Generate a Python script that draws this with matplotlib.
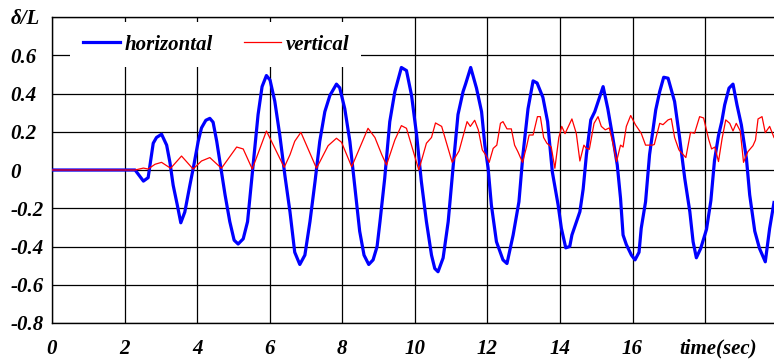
import matplotlib
matplotlib.use("Agg")
import matplotlib.pyplot as plt

# horizontal displacement (blue)
t_horizontal = [0.0, 2.29, 2.52, 2.65, 2.79, 2.88, 3.02, 3.16, 3.25, 3.34, 3.45, 3.55, 3.66, 3.80,
                3.91, 4.03, 4.12, 4.24, 4.35, 4.44, 4.54, 4.63, 4.77, 4.90, 5.02, 5.13, 5.27, 5.39,
                5.48, 5.57, 5.68, 5.79, 5.91, 6.01, 6.14, 6.28, 6.42, 6.56, 6.69, 6.83, 6.97, 7.11,
                7.25, 7.38, 7.52, 7.66, 7.84, 7.93, 8.07, 8.21, 8.35, 8.48, 8.60, 8.73, 8.85, 8.96,
                9.04, 9.17, 9.31, 9.45, 9.63, 9.77, 9.91, 10.05, 10.18, 10.32, 10.46, 10.55, 10.64,
                10.78, 10.92, 11.06, 11.19, 11.33, 11.40, 11.54, 11.70, 11.84, 11.93, 12.02, 12.11,
                12.25, 12.43, 12.54, 12.71, 12.87, 12.98, 13.12, 13.26, 13.37, 13.53, 13.66, 13.79,
                13.95, 14.04, 14.16, 14.27, 14.33, 14.55, 14.64, 14.73, 14.85, 14.96, 15.19, 15.32,
                15.46, 15.58, 15.67, 15.74, 15.83, 15.97, 16.07, 16.18, 16.24, 16.36, 16.47, 16.64,
                16.75, 16.86, 16.98, 17.16, 17.30, 17.44, 17.58, 17.67, 17.76, 17.88, 18.04, 18.16,
                18.26, 18.37, 18.46, 18.54, 18.66, 18.77, 18.88, 19.00, 19.14, 19.23, 19.37, 19.50,
                19.66, 19.78, 19.90]
horizontal = [0.0, 0.0, -0.058, -0.04, 0.14, 0.17, 0.187, 0.13, 0.04, -0.08, -0.18, -0.276, -0.22, -0.08,
              0.026, 0.15, 0.22, 0.26, 0.27, 0.25, 0.15, 0.04, -0.13, -0.27, -0.367, -0.387, -0.36, -0.27,
              -0.096, 0.08, 0.29, 0.436, 0.494, 0.47, 0.36, 0.18, -0.03, -0.22, -0.43, -0.494, -0.445, -0.27,
              -0.06, 0.15, 0.305, 0.39, 0.449, 0.43, 0.32, 0.15, -0.096, -0.32, -0.445, -0.494, -0.47, -0.40,
              -0.27, -0.044, 0.253, 0.41, 0.536, 0.52, 0.39, 0.183, -0.06, -0.27, -0.445, -0.515, -0.532,
              -0.46, -0.27, 0.026, 0.29, 0.41, 0.45, 0.536, 0.428, 0.305, 0.13, 0.01, -0.183,
              -0.375, -0.47, -0.489, -0.34, -0.166, 0.08, 0.32, 0.466, 0.455, 0.38, 0.253, -0.01,
              -0.183, -0.305, -0.407, -0.40, -0.34, -0.218, -0.1, 0.08, 0.262, 0.305, 0.436, 0.32,
              0.166, 0.026, -0.148, -0.34, -0.39, -0.445, -0.47, -0.43, -0.305, -0.166, 0.08, 0.314,
              0.41, 0.485, 0.48, 0.358, 0.166, -0.044, -0.218, -0.375, -0.459, -0.41, -0.31, -0.16,
              0.05, 0.18, 0.253, 0.34, 0.428, 0.449, 0.34, 0.236, 0.06, -0.13, -0.32, -0.41,
              -0.48, -0.305, -0.17]

# vertical displacement (red)
t_vertical = [0.0, 2.29, 2.52, 2.65, 2.84, 3.02, 3.27, 3.57, 3.89, 4.12, 4.35, 4.67, 5.09, 5.27, 5.52,
              5.91, 6.40, 6.56, 6.69, 6.86, 7.29, 7.61, 7.84, 7.98, 8.26, 8.71, 8.90, 9.09, 9.22, 9.45,
              9.63, 9.77, 10.11, 10.32, 10.46, 10.57, 10.74, 11.03, 11.22, 11.44, 11.53, 11.65, 11.75,
              11.86, 11.95, 12.05, 12.16, 12.26, 12.36, 12.43, 12.54, 12.66, 12.75, 12.84, 12.97, 13.08,
              13.15, 13.26, 13.38, 13.46, 13.55, 13.64, 13.76, 13.86, 13.97, 14.05, 14.14, 14.33, 14.45,
              14.55, 14.66, 14.72, 14.81, 14.94, 15.05, 15.14, 15.25, 15.36, 15.46, 15.56, 15.67, 15.74,
              15.83, 15.95, 16.08, 16.24, 16.36, 16.54, 16.60, 16.75, 16.84, 16.98, 17.07, 17.16, 17.28,
              17.47, 17.60, 17.71, 17.85, 17.96, 18.10, 18.18, 18.27, 18.37, 18.47, 18.57, 18.68, 18.77,
              18.86, 18.97, 19.06, 19.18, 19.32, 19.39, 19.46, 19.57, 19.66, 19.78, 19.90]
vertical = [0.0, 0.0, 0.01, 0.005, 0.03, 0.04, 0.009, 0.073, 0.005, 0.047, 0.065, 0.009, 0.12, 0.11, 0.005,
            0.204, 0.014, 0.08, 0.15, 0.197, 0.009, 0.127, 0.166, 0.145, 0.017, 0.218, 0.17, 0.08, 0.026, 0.157,
            0.232, 0.218, 0.0, 0.14, 0.17, 0.246, 0.228, 0.04, 0.1, 0.253, 0.228, 0.26, 0.21,
            0.105, 0.08, 0.04, 0.113, 0.13, 0.244, 0.253, 0.215, 0.215, 0.13, 0.096, 0.04, 0.122,
            0.183, 0.183, 0.279, 0.279, 0.17, 0.14, 0.12, 0.009, 0.17, 0.228, 0.19, 0.267, 0.192,
            0.047, 0.13, 0.115, 0.108, 0.244, 0.279, 0.228, 0.21, 0.22, 0.14, 0.044, 0.13, 0.12,
            0.228, 0.285, 0.237, 0.192, 0.13, 0.13, 0.133, 0.244, 0.237, 0.262, 0.268, 0.17, 0.105,
            0.065, 0.197, 0.192, 0.279, 0.272, 0.16, 0.11, 0.12, 0.044, 0.165, 0.262, 0.244, 0.204,
            0.244, 0.204, 0.04, 0.096, 0.127, 0.157, 0.267, 0.279, 0.195, 0.228, 0.17]

x_ticks = [0, 2, 4, 6, 8, 10, 12, 14, 16, 18]
x_labels = ["0", "2", "4", "6", "8", "10", "12", "14", "16", ""]
y_ticks = [-0.8, -0.6, -0.4, -0.2, 0, 0.2, 0.4, 0.6, 0.8]
y_labels = ["-0.8", "-0.6", "-0.4", "-0.2", "0", "0.2", "0.4", "0.6", "\u03b4/L"]

plt.rcParams["font.family"] = ["Liberation Serif", "DejaVu Serif"]
plt.rcParams["font.style"] = "italic"
plt.rcParams["font.weight"] = "bold"
plt.rcParams["font.size"] = 15

fig = plt.figure(figsize=(7.74, 3.6), dpi=100)
ax = fig.add_axes([52 / 774, 37 / 360, 722 / 774, 306 / 360])

ax.plot(t_horizontal, horizontal, color="#0000ff", lw=2.3, label="horizontal", zorder=3)
ax.plot(t_vertical, vertical, color="#ff0000", lw=0.9, label="vertical", zorder=3)

ax.set_xlim(0, 19.9)
ax.set_ylim(-0.8, 0.8)
ax.set_xticks(x_ticks)
ax.set_xticklabels(x_labels)
ax.set_yticks(y_ticks)
ax.set_yticklabels(y_labels)
ax.grid(True, color="black", lw=0.9)
ax.tick_params(length=0)
ax.tick_params(axis="x", pad=11.5)
ax.tick_params(axis="y", pad=30)
for lab in ax.get_yticklabels():
    lab.set_horizontalalignment("left")

ax.spines["right"].set_visible(False)
for s in ["left", "top", "bottom"]:
    ax.spines[s].set_linewidth(1.0)

ax.annotate("time(sec)", xy=(18.37, -0.8), xytext=(0, -11.5), textcoords="offset points",
            ha="center", va="top", annotation_clip=False)

leg = ax.legend(loc="upper left", bbox_to_anchor=((70 - 52) / 722, (323 - 22) / 306),
                ncol=2, frameon=True, framealpha=1, facecolor="white", edgecolor="none",
                fancybox=False, borderaxespad=0, borderpad=0.6, handlelength=1.8,
                handletextpad=0.2, columnspacing=1.5)
leg.set_zorder(5)

fig.savefig("out.png", dpi=100)
